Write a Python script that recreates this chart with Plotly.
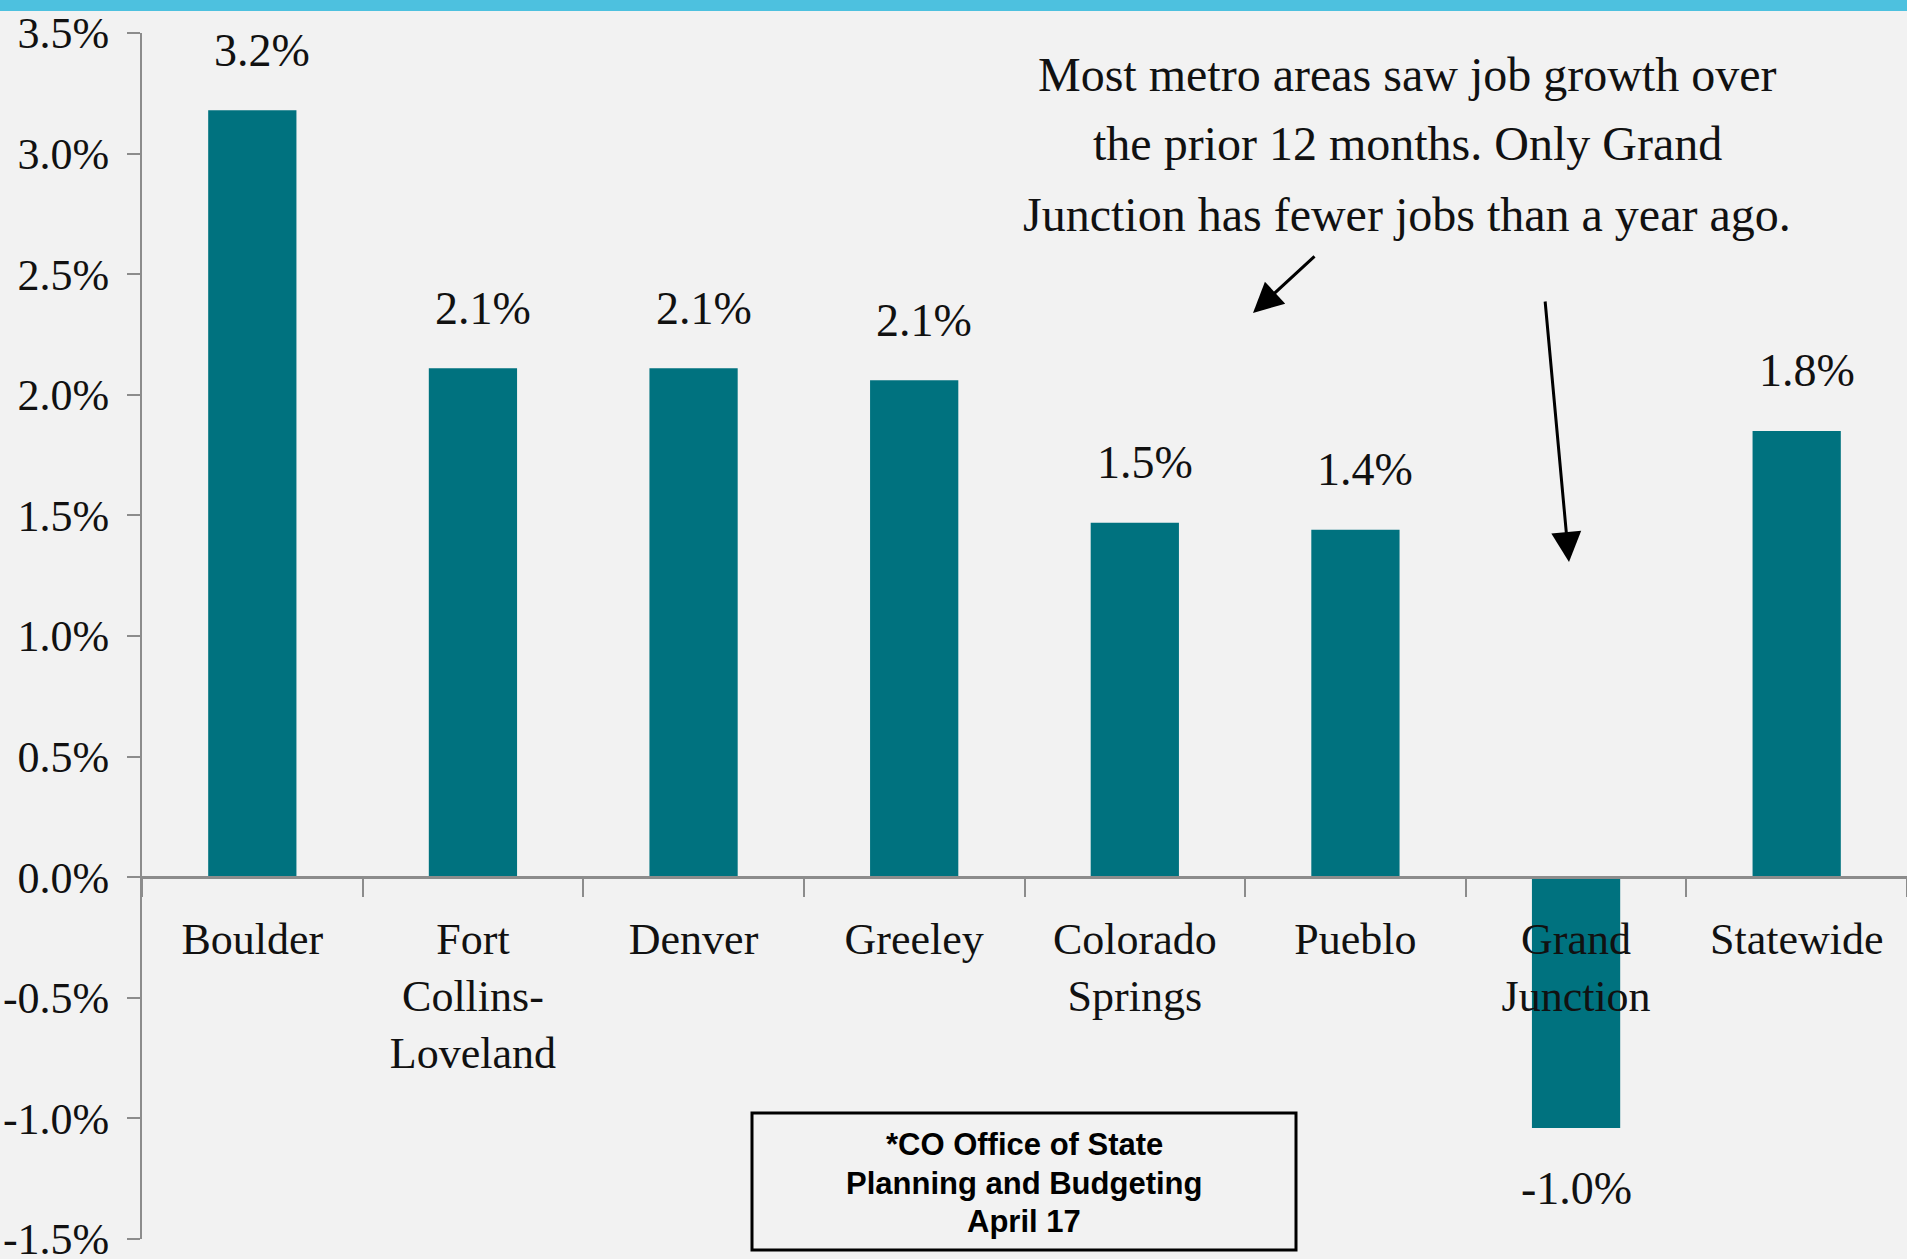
import plotly.graph_objects as go

categories = ["Boulder", "Fort<br>Collins-<br>Loveland", "Denver", "Greeley",
              "Colorado<br>Springs", "Pueblo", "Grand<br>Junction", "Statewide"]
values = [3.18, 2.11, 2.11, 2.06, 1.47, 1.44, -1.04, 1.85]
value_labels = ["3.2%", "2.1%", "2.1%", "2.1%", "1.5%", "1.4%", "-1.0%", "1.8%"]
y_tickvals = [-1.5, -1.0, -0.5, 0.0, 0.5, 1.0, 1.5, 2.0, 2.5, 3.0, 3.5]
y_ticktext = ["-1.5%", "-1.0%", "-0.5%", "0.0%", "0.5%", "1.0%", "1.5%",
              "2.0%", "2.5%", "3.0%", "3.5%"]
note_lines = ["Most metro areas saw job growth over",
              "the prior 12 months. Only Grand",
              "Junction has fewer jobs than a year ago."]
source_lines = ["*CO Office of State", "Planning and Budgeting", "April 17"]

BAR = "#00727F"
BG = "#F2F2F2"
AX = "#8C8C8C"
SERIF = "Liberation Serif"
TXT = "#111111"

W, H = 1907, 1259
ML, MR, MT, MB = 142, 0, 33, 20
ph = H - MT - MB
pw = W - ML - MR

def px(xp):
    return (xp - ML) / pw

def py(yp):
    return (H - MB - yp) / ph

fig = go.Figure()
fig.add_trace(go.Bar(x=categories, y=values, marker=dict(color=BAR, line=dict(width=0)),
                     width=0.4, hoverinfo="skip"))

annotations = []
for c, v, t in zip(categories, values, value_labels):
    annotations.append(dict(x=c, y=v, xref="x", yref="y", text=t, showarrow=False,
                            yanchor="middle", yshift=60 if v >= 0 else -60, xshift=10 if v >= 0 else 0,
                            font=dict(family=SERIF, size=46, color=TXT)))

for line, yc in zip(note_lines, [74, 144, 214]):
    annotations.append(dict(x=px(1407), y=py(yc), xref="paper", yref="paper", text=line,
                            showarrow=False, xanchor="center", yanchor="middle",
                            font=dict(family=SERIF, size=48, color=TXT)))

# arrows
annotations.append(dict(x=px(1253), y=py(313), xref="paper", yref="paper", text="",
                        showarrow=True, ax=63, ay=-58, axref="pixel", ayref="pixel",
                        arrowhead=2, arrowsize=2, arrowwidth=3, arrowcolor="#000000"))
annotations.append(dict(x=px(1569), y=py(562), xref="paper", yref="paper", text="",
                        showarrow=True, ax=-24, ay=-262, axref="pixel", ayref="pixel",
                        arrowhead=2, arrowsize=2, arrowwidth=3, arrowcolor="#000000"))

# source box text
for line, yc in zip(source_lines, [1144, 1183, 1221]):
    annotations.append(dict(x=px(1024), y=py(yc), xref="paper", yref="paper", text="<b>" + line + "</b>",
                            showarrow=False, xanchor="center", yanchor="middle",
                            font=dict(family="Liberation Sans", size=31, color="#000000")))

shapes = [
    dict(type="rect", xref="paper", yref="paper", x0=px(752), x1=px(1296), y0=py(1250), y1=py(1113),
         line=dict(color="#000000", width=3), fillcolor="rgba(0,0,0,0)", layer="above"),
    dict(type="rect", xref="paper", yref="paper", x0=-0.2, x1=1.1, y0=py(11), y1=py(-20),
         line=dict(width=0), fillcolor="#4DC1DF", layer="above"),
]

fig.update_layout(
    width=W, height=H,
    margin=dict(l=ML, r=MR, t=MT, b=MB, pad=0, autoexpand=False),
    paper_bgcolor=BG, plot_bgcolor=BG,
    showlegend=False,
    annotations=annotations,
    shapes=shapes,
    bargap=0.6,
    xaxis=dict(type="category", anchor="free", position=1.5 / 5.0,
               showline=True, linecolor=AX, linewidth=3,
               ticks="outside", tickson="boundaries", ticklen=18, tickcolor=AX, tickwidth=2,
               showgrid=False, zeroline=False, automargin=False,
               tickfont=dict(family=SERIF, size=44, color=TXT), ticklabelstandoff=22,
               layer="above traces", fixedrange=True),
    yaxis=dict(range=[-1.5, 3.5], tickvals=y_tickvals, ticktext=y_ticktext,
               showline=True, linecolor=AX, linewidth=2,
               ticks="outside", ticklen=13, tickcolor=AX, tickwidth=2,
               showgrid=False, zeroline=False, automargin=False,
               ticklabeloverflow="allow",
               tickfont=dict(family=SERIF, size=44, color=TXT), ticklabelstandoff=9,
               fixedrange=True),
)

fig.write_html("out.html", config={"displayModeBar": False},
               post_script="document.body.style.margin='0';document.body.style.overflow='hidden';")
